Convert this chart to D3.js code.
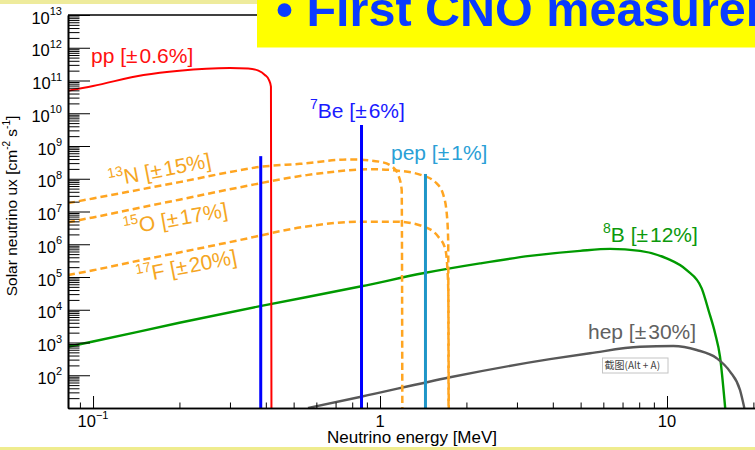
<!DOCTYPE html>
<html>
<head>
<meta charset="utf-8">
<script src="https://cdn.jsdelivr.net/npm/d3@7"></script>
<style>
  html, body { margin: 0; padding: 0; background: #ffffff; }
  svg { display: block; font-family: "Liberation Sans", Arial, Helvetica, sans-serif; }
</style>
</head>
<body>
<svg id="chart" width="755" height="450"></svg>
<script>
// ---- Solar neutrino spectra: [energy MeV, flux] ----
const ppSpectrum = [
  [0.0818, 4.9e10], [0.1, 6.8e10], [0.15, 1.48e11], [0.2, 2.0e11], [0.3, 2.4e11],
  [0.347, 2.34e11], [0.377, 2.0e11], [0.397, 1.48e11], [0.410, 1.05e11],
  [0.4168, 6.5e10], [0.4185, 10]
];
const n13Spectrum = [
  [0.0818, 1.8e7], [0.1, 2.5e7], [0.15, 4.9e7], [0.2, 7.9e7], [0.3, 1.6e8],
  [0.382, 2.3e8], [0.526, 2.85e8], [0.786, 3.9e8], [1.0, 3.3e8], [1.112, 2.2e8],
  [1.158, 1.3e8], [1.19, 4.6e7], [1.196, 10]
];
const o15Spectrum = [
  [0.0818, 4.7e6], [0.1, 6.6e6], [0.15, 1.38e7], [0.2, 2.3e7], [0.325, 5.5e7],
  [0.555, 1.29e8], [0.948, 1.95e8], [1.143, 1.78e8], [1.397, 1.29e8], [1.576, 7.2e7],
  [1.662, 3.2e7], [1.708, 8.7e6], [1.728, 1.26e6], [1.733, 10]
];
const f17Spectrum = [
  [0.0818, 1.15e5], [0.1, 1.6e5], [0.15, 3.4e5], [0.2, 5.6e5], [0.325, 1.35e6],
  [0.555, 3.5e6], [0.852, 4.9e6], [1.143, 4.9e6], [1.415, 3.5e6], [1.596, 1.7e6],
  [1.685, 7.6e5], [1.716, 2.0e5], [1.730, 3.2e4], [1.736, 10]
];
const b8Spectrum = [
  [0.0818, 7.4e2], [0.1, 1.07e3], [0.2, 4.0e3], [0.382, 1.29e4], [0.862, 5.2e4],
  [1.427, 1.32e5], [2.23, 2.6e5], [3.33, 4.4e5], [4.98, 6.3e5], [6.33, 7.2e5],
  [8.05, 6.3e5], [9.97, 3.7e5], [11.71, 1.62e5], [13.21, 4.5e4], [14.0, 8.7e3],
  [14.70, 1.95e3], [15.30, 3.7e2], [15.95, 10]
];
const hepSpectrum = [
  [0.561, 10], [0.859, 22], [1.754, 87], [3.91, 3.1e2], [5.39, 4.7e2], [8.05, 7.4e2],
  [10.52, 7.8e2], [12.69, 5.9e2], [14.90, 3.3e2], [16.58, 1.29e2], [17.97, 35], [18.6, 10]
];
// mono-energetic lines: [energy MeV, flux]
const be7Lines = [[0.384, 4.9e8], [0.862, 4.4e9]];
const pepLine = [[1.44, 1.4e8]];

// axis ranges and tick labels
const energyDomain = [0.0818, 20.26];
const fluxDomain = [10, 1e13];
const xTickLabels = [[0.1, "10", "\u22121"], [1, "1", ""], [10, "10", ""]];
const yTickExponents = [2, 3, 4, 5, 6, 7, 8, 9, 10, 11, 12, 13];

// ---- layout ----
const svg = d3.select("#chart");
const L = 68, R = 755, T = 15, B = 408;
const x = d3.scaleLog().domain(energyDomain).range([L, R]);
const y = d3.scaleLog().domain(fluxDomain).range([B, T]);

// slide background strips
svg.append("rect").attr("x", 0).attr("y", 0).attr("width", 755).attr("height", 4).attr("fill", "#eeeb9c");
svg.append("rect").attr("x", 0).attr("y", 447).attr("width", 755).attr("height", 3).attr("fill", "#efec8e");

svg.append("defs").append("clipPath").attr("id", "plotClip")
  .append("rect").attr("x", L).attr("y", T).attr("width", R - L).attr("height", B - T);

const plot = svg.append("g").attr("clip-path", "url(#plotClip)");
const line = d3.line().x(d => x(d[0])).y(d => y(d[1])).curve(d3.curveMonotoneX);

function drawCurve(data, color, width, dash) {
  plot.append("path").datum(data)
    .attr("d", line)
    .attr("fill", "none")
    .attr("stroke", color)
    .attr("stroke-width", width)
    .attr("stroke-dasharray", dash || null)
    .attr("stroke-linejoin", "round");
}

const ORANGE = "#ffa521";
drawCurve(b8Spectrum, "#009a00", 2.4);
drawCurve(hepSpectrum, "#585858", 2.4);
drawCurve(ppSpectrum, "#ff0000", 2);
drawCurve(n13Spectrum, ORANGE, 2.5, "7,4");
drawCurve(o15Spectrum, ORANGE, 2.5, "7,4");
drawCurve(f17Spectrum, ORANGE, 2.5, "7,4");

plot.selectAll(".be7").data(be7Lines).enter().append("line")
  .attr("x1", d => x(d[0])).attr("x2", d => x(d[0]))
  .attr("y1", y(fluxDomain[0])).attr("y2", d => y(d[1]))
  .attr("stroke", "#0000ff").attr("stroke-width", 3);
plot.selectAll(".pep").data(pepLine).enter().append("line")
  .attr("x1", d => x(d[0])).attr("x2", d => x(d[0]))
  .attr("y1", y(fluxDomain[0])).attr("y2", d => y(d[1]))
  .attr("stroke", "#1f96c8").attr("stroke-width", 3);

// ---- axes (ticks point inward) ----
const allX = x.ticks(40);
const majorX = allX.filter(v => Math.abs(Math.log10(v) - Math.round(Math.log10(v))) < 1e-9);
const minorX = allX.filter(v => !majorX.includes(v));
const allY = y.ticks(40);
const majorY = allY.filter(v => Math.abs(Math.log10(v) - Math.round(Math.log10(v))) < 1e-9);
const minorY = allY.filter(v => !majorY.includes(v));

function styleAxis(g) {
  g.selectAll("line").attr("stroke", "#000").attr("stroke-width", 1);
  g.selectAll("path").attr("stroke", "#000").attr("stroke-width", 1.6);
  g.selectAll("text").remove();
}

svg.append("g").attr("transform", `translate(0,${B})`)
  .call(d3.axisBottom(x).tickValues(minorX).tickSize(-5.5).tickSizeOuter(0).tickFormat(""))
  .call(styleAxis);
svg.append("g").attr("transform", `translate(0,${B})`)
  .call(d3.axisBottom(x).tickValues(majorX).tickSize(-12).tickSizeOuter(0).tickFormat(""))
  .call(styleAxis);
svg.append("g").attr("transform", `translate(${L},0)`)
  .call(d3.axisLeft(y).tickValues(minorY).tickSize(-11.5).tickSizeOuter(0).tickFormat(""))
  .call(styleAxis);
svg.append("g").attr("transform", `translate(${L},0)`)
  .call(d3.axisLeft(y).tickValues(majorY).tickSize(-22).tickSizeOuter(0).tickFormat(""))
  .call(styleAxis);

// top frame
svg.append("line").attr("x1", L).attr("x2", R).attr("y1", T).attr("y2", T)
  .attr("stroke", "#000").attr("stroke-width", 1.7);

// y tick labels: 10^n
yTickExponents.forEach(e => {
  const t = svg.append("text").attr("x", 62).attr("y", y(Math.pow(10, e)) + 8.5)
    .attr("text-anchor", "end").attr("font-size", 16.5).attr("fill", "#000");
  t.append("tspan").text("10");
  t.append("tspan").attr("dy", -8.5).attr("font-size", 11).text(String(e));
});

// x tick labels
xTickLabels.forEach(([v, base, sup]) => {
  const t = svg.append("text").attr("x", x(v)).attr("y", 426.7)
    .attr("text-anchor", "middle").attr("font-size", 16.5).attr("fill", "#000");
  t.append("tspan").text(base);
  if (sup) t.append("tspan").attr("dy", -8).attr("font-size", 11).text(sup);
});

// axis titles
svg.append("text").attr("x", 412).attr("y", 443).attr("text-anchor", "middle")
  .attr("font-size", 17).attr("fill", "#000").text("Neutrino energy [MeV]");

const yt = svg.append("text").attr("transform", "translate(17,206) rotate(-90)")
  .attr("text-anchor", "middle").attr("font-size", 15.5).attr("fill", "#000");
yt.append("tspan").text("Solar neutrino  ux [cm");
yt.append("tspan").attr("dy", -7).attr("font-size", 10).text("-2");
yt.append("tspan").attr("dy", 7).text(" s");
yt.append("tspan").attr("dy", -7).attr("font-size", 10).text("-1");
yt.append("tspan").attr("dy", 7).text("]");

// ---- source labels ----
function label(px, py, angle, color, sup, name, unc) {
  const t = svg.append("text")
    .attr("transform", `translate(${px},${py}) rotate(${angle})`)
    .attr("font-size", 21).attr("fill", color);
  if (sup) {
    t.append("tspan").attr("dy", -9).attr("font-size", 14).text(sup);
    t.append("tspan").attr("dy", 9).text(name + " [\u00b1");
  } else {
    t.append("tspan").text(name + " [\u00b1");
  }
  t.append("tspan").attr("dx", 2).text(unc + "]");
}
label(91, 63, 0, "#ff1010", "", "pp", "0.6%");
label(310, 117.7, 0, "#1a1aff", "7", "Be", "6%");
label(391, 160, 0, "#2aa0d6", "", "pep", "1%");
label(603, 241.7, 0, "#0c990c", "8", "B", "12%");
label(588, 339.3, 0, "#616161", "", "hep", "30%");
label(110, 187, -11, "#f5a623", "13", "N", "15%");
label(125, 235, -10, "#f5a623", "15", "O", "17%");
label(138, 283, -11, "#f5a623", "17", "F", "20%");

// small tooltip box
svg.append("rect").attr("x", 602.5).attr("y", 358).attr("width", 65.5).attr("height", 15)
  .attr("fill", "#ffffff").attr("stroke", "#c4c4c4").attr("stroke-width", 1);
svg.append("text").attr("x", 604.5).attr("y", 369.3)
  .attr("font-family", "'Noto Sans CJK SC', sans-serif").attr("font-size", 10)
  .attr("fill", "#444").text("截图(Alt + A)");

// ---- heading banner ----
svg.append("rect").attr("x", 257).attr("y", 0).attr("width", 498).attr("height", 47.5).attr("fill", "#ffff00");
svg.append("text").attr("x", 276).attr("y", 26)
  .attr("font-size", 48.5).attr("font-weight", "bold").attr("fill", "#0a3cff")
  .text("\u2022 First CNO measurement");
</script>
</body>
</html>
